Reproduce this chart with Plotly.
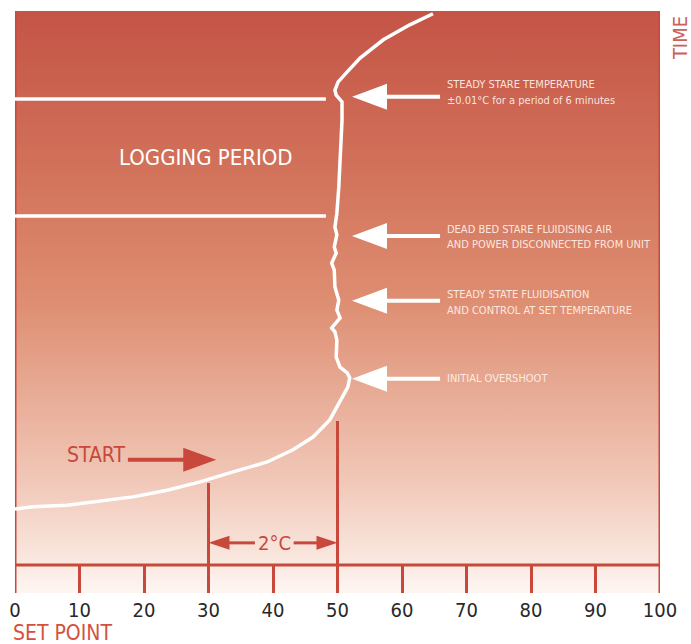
import plotly.graph_objects as go

# ---------------- data ----------------
set_point_ticks = [0, 10, 20, 30, 40, 50, 60, 70, 80, 90, 100]

curve_x = [0, 2.8, 8.1, 13.2, 18.3, 23.6, 28.7, 33.8, 39.1, 43.1, 46.2, 48.8, 50.6,
           51.6, 51.9, 51.5, 50.4, 49.8, 49.9, 49.6, 49.1, 50.4, 49.9, 50.2, 49.6,
           49.5, 49.1, 49.8, 49.5, 49.9, 49.6, 49.9, 50.2, 50.5, 50.7, 50.7, 49.9,
           49.8, 49.6, 50.1, 51.5, 53.5, 57.1, 61.2, 64.8]
curve_t = [10.1, 10.5, 10.8, 11.6, 12.3, 13.5, 15.0, 16.8, 18.6, 20.8, 23.1, 26.2, 29.8,
           32.1, 33.8, 34.7, 35.7, 37.5, 40.6, 42.1, 42.8, 44.6, 46.0, 47.8, 50.2,
           53.2, 54.5, 56.3, 57.4, 59.6, 61.0, 63.5, 68.2, 74.4, 80.3, 83.6, 84.5,
           84.8, 85.7, 87.2, 89.0, 91.5, 94.8, 97.5, 99.5]

logging_bounds = [84.1, 63.0]      # time of the two logging lines
logging_end_x = 48.2

callout_t = [84.5, 59.4, 47.7, 33.6]
callout_lines = [
    ["STEADY STARE TEMPERATURE", "±0.01°C for a period of 6 minutes"],
    ["DEAD BED STARE FLUIDISING AIR", "AND POWER DISCONNECTED FROM UNIT"],
    ["STEADY STATE FLUIDISATION", "AND CONTROL AT SET TEMPERATURE"],
    ["INITIAL OVERSHOOT"],
]
callout_line_t = [[86.8, 83.8], [60.6, 57.8], [48.9, 46.0], [33.6]]

marker_x = [30, 50]
marker_top = [14.8, 26.0]
span_t = 4.0
span_label = "2°C"
start_t = 19.0

# ---------------- geometry ----------------
W, H = 691, 644
ML, MR, MT, MB = 15, 31, 11, 51
Y0, Y1 = -5.05, 100
pxx = (W - ML - MR) / 100.0
pxy = (H - MT - MB) / (Y1 - Y0)

RED = "rgb(201,72,60)"
WHITE = "white"
FONT = "DejaVu Sans Condensed, Roboto, sans-serif"

fig = go.Figure()

# gradient background
fig.add_trace(go.Scatter(
    x=[0, 100, 100, 0, 0], y=[Y0, Y0, Y1, Y1, Y0],
    fill="toself", mode="lines", line=dict(width=0),
    fillgradient=dict(type="vertical", start=Y0, stop=Y1,
                      colorscale=[[0, "rgb(254,246,242)"], [0.05, "rgb(250,233,225)"],
                                  [0.19, "rgb(241,200,184)"], [0.5, "rgb(222,142,114)"],
                                  [0.76, "rgb(208,110,88)"], [1, "rgb(196,84,70)"]]),
    hoverinfo="skip", showlegend=False))

def seg(x0, y0, x1, y1, color, width):
    fig.add_trace(go.Scatter(x=[x0, x1], y=[y0, y1], mode="lines",
                             line=dict(color=color, width=width),
                             hoverinfo="skip", showlegend=False))

def head(tip_x, tip_y, direction, length_px, half_px, color):
    bx = tip_x - direction * length_px / pxx
    hy = half_px / pxy
    fig.add_trace(go.Scatter(x=[tip_x, bx, bx, tip_x], y=[tip_y, tip_y + hy, tip_y - hy, tip_y],
                             fill="toself", fillcolor=color, mode="lines",
                             line=dict(color=color, width=0),
                             hoverinfo="skip", showlegend=False))

# frame lines
seg(0, 0, 100, 0, RED, 3)
seg(0, Y0, 0, Y1, RED, 3)
seg(100, Y0, 100, Y1, RED, 3)
for mx, mt in zip(marker_x, marker_top):
    seg(mx, 0, mx, mt, RED, 3)

# logging lines
for lt in logging_bounds:
    seg(0, lt, logging_end_x, lt, WHITE, 3.5)

# curve
fig.add_trace(go.Scatter(x=curve_x, y=curve_t, mode="lines",
                         line=dict(color=WHITE, width=3.5, shape="linear"),
                         hoverinfo="skip", showlegend=False))

# callout arrows
tip_x = 52.25
for ct in callout_t:
    head(tip_x, ct, -1, 35, 13, WHITE)
    seg(tip_x + 34 / pxx, ct, 65.9, ct, WHITE, 4)

annotations = []
for lines, lts in zip(callout_lines, callout_line_t):
    for txt, lt in zip(lines, lts):
        annotations.append(dict(x=66.7, y=lt, text=txt, showarrow=False, xanchor="left",
                                yanchor="middle",
                                font=dict(family=FONT, size=11,
                                          color="rgba(255,242,236,0.92)")))

# 2°C span
lab_x = 40.2
head(marker_x[0], span_t, -1, 21, 7, RED)
seg(marker_x[0] + 20 / pxx, span_t, lab_x - 3.0, span_t, RED, 3)
head(marker_x[1], span_t, 1, 21, 7, RED)
seg(lab_x + 3.0, span_t, marker_x[1] - 20 / pxx, span_t, RED, 3)
annotations.append(dict(x=lab_x, y=span_t, text=span_label, showarrow=False,
                        font=dict(family=FONT, size=20, color=RED)))

# START
seg(17.5, start_t, 26.2, start_t, RED, 4)
head(31.2, start_t, 1, 33, 12, RED)
annotations.append(dict(x=12.6, y=19.9, text="START", showarrow=False,
                        font=dict(family=FONT, size=21, color=RED)))

annotations.append(dict(x=29.6, y=73.5, text="LOGGING PERIOD", showarrow=False,
                        font=dict(family=FONT, size=22, color=WHITE)))
annotations.append(dict(xref="paper", yref="paper", x=1.030, y=0.954, text="TIME",
                        showarrow=False, textangle=-90, xanchor="center", yanchor="middle",
                        font=dict(family=FONT, size=20, color="rgb(204,96,90)")))
annotations.append(dict(xref="paper", yref="paper", x=-0.006, y=-0.069, text="SET POINT",
                        showarrow=False, xanchor="left", yanchor="middle",
                        font=dict(family=FONT, size=21, color="rgb(210,82,62)")))

fig.update_layout(
    width=W, height=H, margin=dict(l=ML, r=MR, t=MT, b=MB, autoexpand=False),
    paper_bgcolor="white", plot_bgcolor="white",
    showlegend=False, annotations=annotations,
    xaxis=dict(range=[0, 100], tickvals=set_point_ticks, ticks="inside", ticklen=28,
               tickwidth=3, tickcolor=RED, showgrid=False, zeroline=False, showline=False,
               automargin=False, ticklabelstandoff=3,
               tickfont=dict(family=FONT, size=20, color="rgb(40,40,40)"), fixedrange=True),
    yaxis=dict(range=[Y0, Y1], visible=False, fixedrange=True, automargin=False),
)

fig.write_html("out.html", config={"displayModeBar": False},
               post_script="document.body.style.margin='0';document.body.style.overflow='hidden';")
